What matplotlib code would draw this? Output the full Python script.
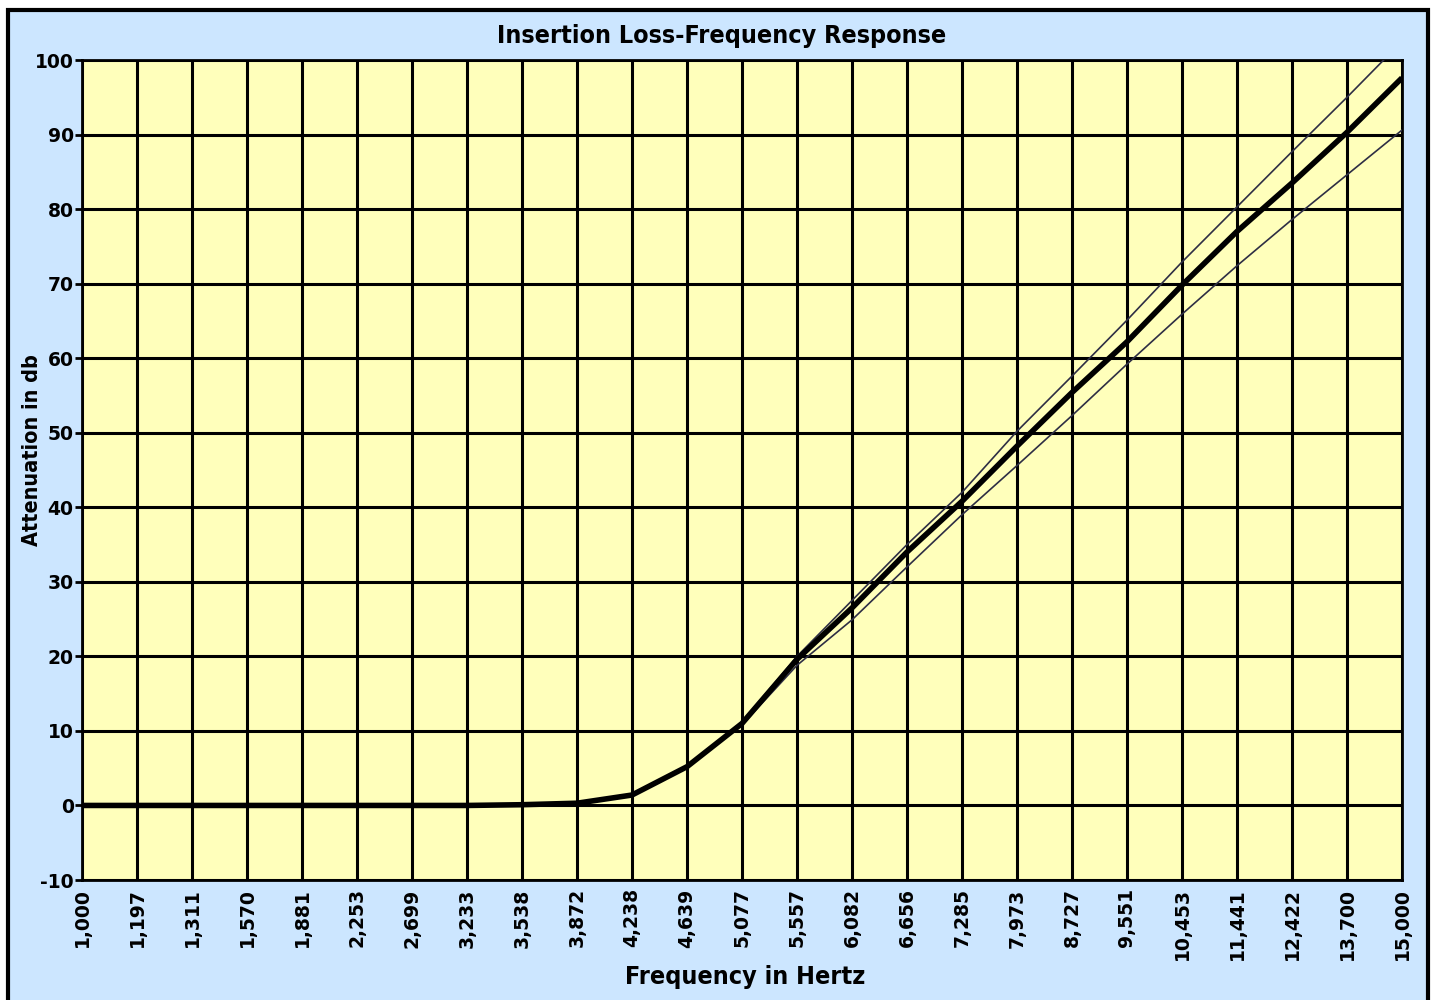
import numpy as np
import matplotlib.pyplot as plt
from matplotlib.patches import Rectangle

# frequency labels (equally spaced categories)
freq_labels = ["1,000", "1,197", "1,311", "1,570", "1,881", "2,253", "2,699", "3,233",
               "3,538", "3,872", "4,238", "4,639", "5,077", "5,557", "6,082", "6,656",
               "7,285", "7,973", "8,727", "9,551", "10,453", "11,441", "12,422", "13,700", "15,000"]

# attenuation in db
atten_main = [0, 0, 0, 0, 0, 0, 0, 0, 0.1, 0.3, 1.4, 5.2, 11.0, 19.6, 26.5, 34.0,
              40.8, 48.2, 55.4, 62.2, 69.8, 77.0, 83.5, 90.3, 97.6]
atten_upper = [0, 0, 0, 0, 0, 0, 0, 0, 0.1, 0.3, 1.4, 5.2, 11.2, 20.0, 27.5, 35.0,
               42.0, 50.2, 57.6, 65.1, 72.9, 80.3, 87.7, 95.0, 102.5]
atten_lower = [0, 0, 0, 0, 0, 0, 0, 0, 0.1, 0.3, 1.4, 5.2, 10.8, 18.8, 24.9, 32.0,
               39.0, 45.6, 52.3, 59.2, 65.9, 72.4, 78.6, 84.6, 90.6]

fig = plt.figure(figsize=(14.34, 10), dpi=100)
fig.patch.set_facecolor('white')
fig.patches.append(Rectangle((8/1434, -0.02), 1420/1434, 1.02 - 9.5/1000,
                             transform=fig.transFigure, facecolor='#cce6ff',
                             edgecolor='black', lw=3, zorder=-5))

ax = fig.add_axes([82/1434, 0.12, 1320/1434, 0.82])
ax.set_facecolor('#ffffbb')
x = np.arange(len(freq_labels))

ax.plot(x, atten_upper, color='#2e2e44', lw=1.2, zorder=3)
ax.plot(x, atten_lower, color='#2e2e44', lw=1.2, zorder=3)
ax.plot(x, atten_main, color='black', lw=4, zorder=4, solid_capstyle='butt')

ax.set_xlim(0, len(freq_labels) - 1)
ax.set_ylim(-10, 100)
ax.set_xticks(x)
ax.set_xticklabels(freq_labels, rotation=90, fontsize=13.5, fontweight='bold', family='DejaVu Sans')
ax.set_yticks(range(-10, 101, 10))
ax.set_yticklabels([str(v) for v in range(-10, 101, 10)], fontsize=13.5, fontweight='bold', family='DejaVu Sans')
ax.tick_params(axis='x', length=0, pad=6)
ax.tick_params(axis='y', length=5, width=2, pad=1)
ax.grid(True, color='black', lw=2.2, zorder=1)
ax.set_axisbelow(True)
for s in ax.spines.values():
    s.set_linewidth(2)

fig.text(0.503, 0.964, "Insertion Loss-Frequency Response", ha='center', va='center',
         fontsize=18, fontweight='bold', family='DejaVu Sans', fontstretch='condensed')
fig.text(0.52, 0.023, "Frequency in Hertz", ha='center', va='center',
         fontsize=18, fontweight='bold', family='DejaVu Sans', fontstretch='condensed')
fig.text(0.022, 0.55, "Attenuation in db", ha='center', va='center', rotation=90,
         fontsize=15.5, fontweight='bold', family='DejaVu Sans', fontstretch='condensed')

fig.savefig('out.png', dpi=100)
